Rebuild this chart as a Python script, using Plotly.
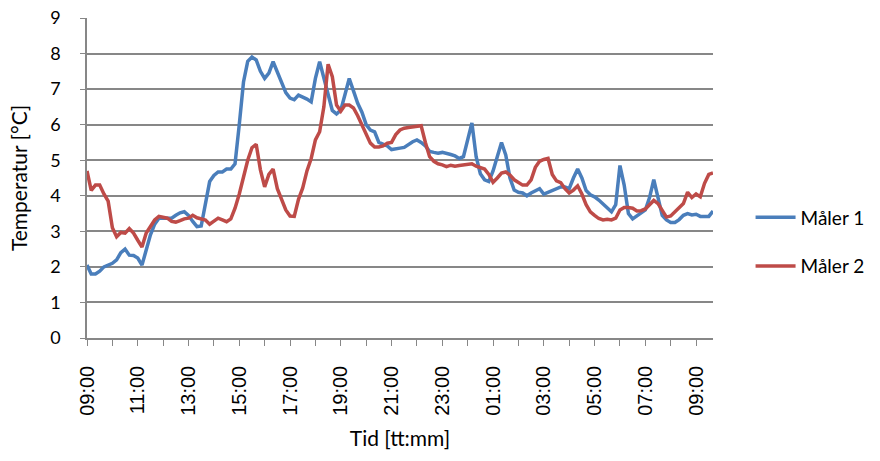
import pandas as pd
import plotly.graph_objects as go

# Temperature readings every 10 minutes, starting 09:00
maaler_1 = [
    2.05, 1.80, 1.80, 1.88, 2.00, 2.05, 2.10, 2.20, 2.40, 2.50,
    2.33, 2.32, 2.25, 2.05, 2.45, 2.90, 3.20, 3.37, 3.37, 3.37,
    3.37, 3.45, 3.52, 3.55, 3.45, 3.28, 3.13, 3.15, 3.80, 4.40,
    4.57, 4.67, 4.67, 4.75, 4.75, 4.90, 6.00, 7.20, 7.78, 7.90,
    7.82, 7.50, 7.30, 7.45, 7.77, 7.48, 7.20, 6.90, 6.75, 6.70,
    6.83, 6.78, 6.72, 6.64, 7.30, 7.77, 7.30, 6.80, 6.40, 6.30,
    6.41, 6.85, 7.30, 6.95, 6.60, 6.35, 6.00, 5.85, 5.80, 5.50,
    5.45, 5.40, 5.30, 5.33, 5.34, 5.36, 5.45, 5.52, 5.57, 5.50,
    5.40, 5.25, 5.22, 5.20, 5.22, 5.20, 5.16, 5.12, 5.05, 5.10,
    5.60, 6.05, 5.10, 4.62, 4.45, 4.40, 4.70, 5.10, 5.50, 5.15,
    4.50, 4.16, 4.10, 4.08, 4.00, 4.08, 4.15, 4.20, 4.05, 4.10,
    4.15, 4.20, 4.25, 4.25, 4.20, 4.50, 4.75, 4.50, 4.15, 4.03,
    3.97, 3.88, 3.78, 3.68, 3.55, 3.75, 4.85, 4.30, 3.50, 3.35,
    3.43, 3.50, 3.60, 3.95, 4.45, 3.95, 3.45, 3.32, 3.25, 3.25,
    3.33, 3.45, 3.50, 3.46, 3.48, 3.42, 3.42, 3.42, 3.57,
]
maaler_2 = [
    4.70, 4.15, 4.30, 4.30, 4.05, 3.85, 3.10, 2.85, 2.97, 2.95,
    3.08, 2.95, 2.75, 2.56, 2.95, 3.12, 3.32, 3.42, 3.40, 3.37,
    3.28, 3.26, 3.30, 3.35, 3.37, 3.45, 3.38, 3.35, 3.32, 3.20,
    3.30, 3.37, 3.32, 3.27, 3.35, 3.65, 4.05, 4.55, 5.00, 5.35,
    5.45, 4.73, 4.25, 4.60, 4.75, 4.20, 3.90, 3.60, 3.43, 3.42,
    3.90, 4.22, 4.70, 5.05, 5.57, 5.80, 6.50, 7.70, 7.35, 6.55,
    6.38, 6.55, 6.55, 6.47, 6.25, 6.00, 5.76, 5.48, 5.37, 5.37,
    5.40, 5.48, 5.50, 5.72, 5.85, 5.90, 5.92, 5.94, 5.97, 5.97,
    5.50, 5.10, 4.97, 4.90, 4.87, 4.82, 4.86, 4.83, 4.85, 4.87,
    4.87, 4.90, 4.83, 4.80, 4.75, 4.60, 4.38, 4.50, 4.64, 4.67,
    4.58, 4.45, 4.38, 4.30, 4.30, 4.45, 4.80, 4.97, 5.02, 5.05,
    4.60, 4.42, 4.37, 4.20, 4.08, 4.16, 4.28, 4.05, 3.75, 3.55,
    3.45, 3.36, 3.32, 3.34, 3.32, 3.37, 3.60, 3.67, 3.67, 3.65,
    3.57, 3.58, 3.63, 3.75, 3.87, 3.78, 3.57, 3.40, 3.43, 3.55,
    3.65, 3.78, 4.10, 3.95, 4.05, 3.97, 4.35, 4.60, 4.64,
]
series_names = ["Måler 1", "Måler 2"]
series_colors = ["#4A7EBB", "#BE4B48"]

tid = pd.date_range("2012-01-01 09:00", periods=len(maaler_1), freq="10min")

fig = go.Figure()
for name, vals, col in zip(series_names, [maaler_1, maaler_2], series_colors):
    fig.add_trace(go.Scatter(
        x=tid, y=vals, mode="lines", name=name, legendgroup=name,
        line=dict(color=col, width=3.5),
    ))

grid = "#878787"
fig.update_layout(
    width=880, height=461,
    margin=dict(l=87, r=167, t=18, b=123, autoexpand=False),
    paper_bgcolor="white", plot_bgcolor="white",
    font=dict(family="Lato", size=17, color="black"),
    showlegend=True,
    legend=dict(x=1.06, y=0.3, xanchor="left", yanchor="middle",
                font=dict(size=19), tracegroupgap=21,
                itemwidth=40, bgcolor="rgba(0,0,0,0)"),
)
fig.update_xaxes(
    type="date", range=[tid[0], tid[-1]],
    tickformat="%H:%M", dtick=2 * 3600000, tick0=tid[0],
    tickangle=-90, ticks="outside", ticklen=6, tickcolor=grid,
    tickfont=dict(family="Liberation Sans", size=20),
    ticklabelstandoff=12,
    minor=dict(dtick=3600000, ticks="outside", ticklen=6, tickcolor=grid),
    showline=True, linecolor=grid, linewidth=1.5,
    showgrid=False, zeroline=False,
    title=dict(text="Tid [tt:mm]", font=dict(size=21), standoff=16),
)
fig.update_yaxes(
    range=[0, 9], dtick=1,
    ticks="outside", ticklen=5, tickcolor=grid,
    tickfont=dict(size=18), ticklabelstandoff=16,
    showline=True, linecolor=grid, linewidth=1.5,
    showgrid=True, gridcolor=grid, gridwidth=1.5,
    zeroline=False,
    title=dict(text="Temperatur [°C]", font=dict(size=21), standoff=17),
)

fig.write_html("out.html")
